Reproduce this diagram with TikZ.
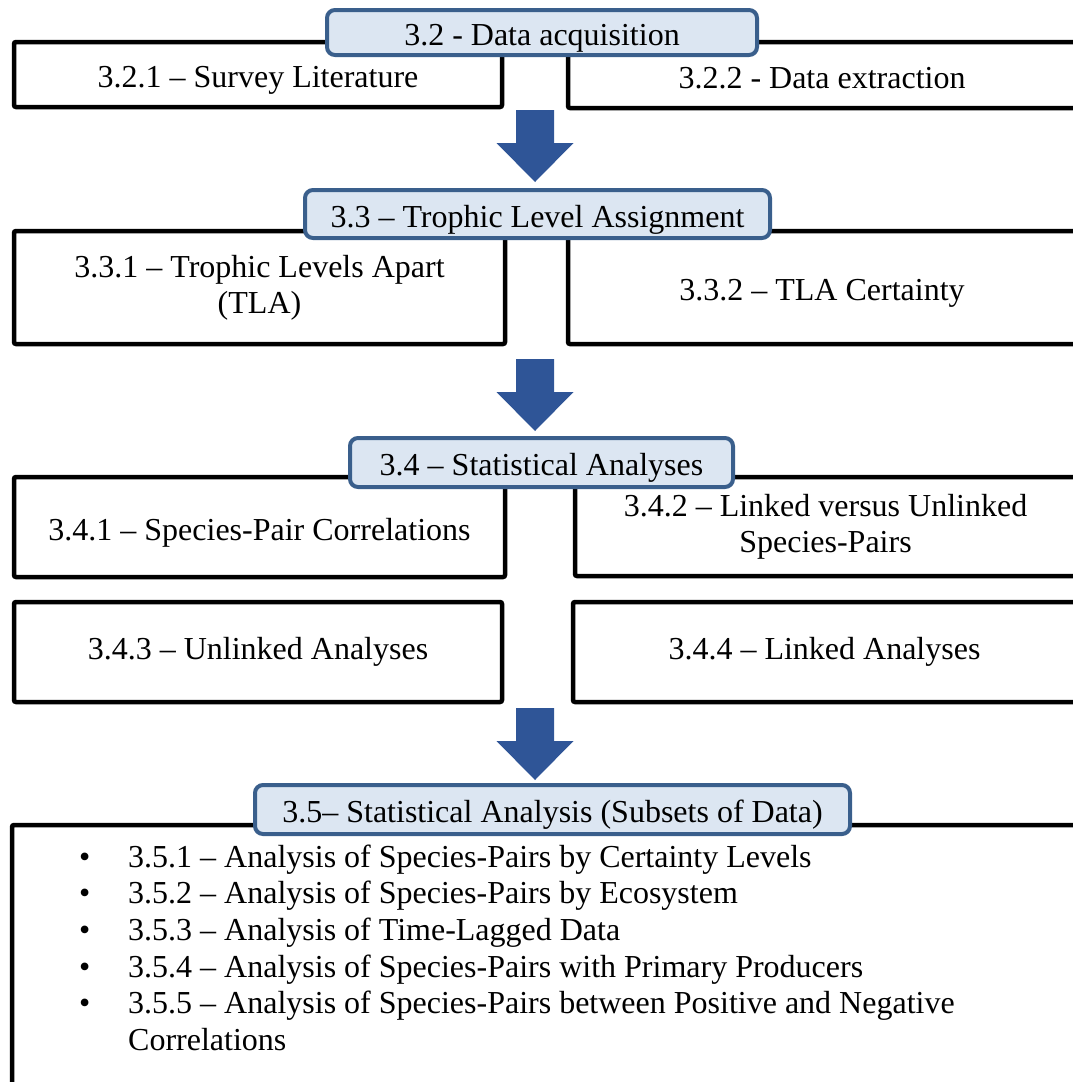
\documentclass[tikz,border=0pt]{standalone}
\usepackage{fontspec}
\setmainfont{Liberation Serif}
\usepackage{tikz}
\usetikzlibrary{positioning}
\definecolor{secblue}{HTML}{3A5F8C}
\definecolor{secfill}{HTML}{DCE6F2}
\definecolor{arrowblue}{HTML}{2F5597}
\tikzset{sect/.style = {draw=secblue, fill=secfill, line width=4pt, rounded corners=8pt, inner sep=0pt, oneline},
         subbox/.style = {draw, line width=4.5pt, rounded corners=2pt, inner sep=0pt, align=center},
         oneline/.style = {text height=26pt, text depth=0pt},
         blockarrow/.style = {fill=arrowblue},
         item/.style = {anchor=base west, inner sep=0pt}}

\begin{document}
\begin{tikzpicture}[x=1pt, y=-1pt, font=\fontsize{32}{36}\selectfont]
            \useasboundingbox (0,0) rectangle (1072,1082);

            % 3.2
            \node [subbox, oneline, minimum width=488, minimum height=65]  (s321) at (258, 74.5)  {3.2.1 – Survey Literature};
            \node [subbox, oneline, minimum width=508, minimum height=66]  (s322) at (822, 75)    {3.2.2 - Data extraction};
            \node [sect, minimum width=430, minimum height=45]             (s32)  at (542, 32.5)  {3.2 - Data acquisition};

            % 3.3
            \node [subbox, minimum width=491, minimum height=113]          (s331) at (259.5, 287.5) {3.3.1 – Trophic Levels Apart\\(TLA)};
            \node [subbox, oneline, minimum width=508, minimum height=113] (s332) at (822, 287.5)   {3.3.2 – TLA Certainty};
            \node [sect, minimum width=465, minimum height=48]             (s33)  at (537.5, 214)   {3.3 – Trophic Level Assignment};

            % 3.4
            \node [subbox, oneline, minimum width=491, minimum height=100] (s341) at (259.5, 527)   {3.4.1 – Species-Pair Correlations};
            \node [subbox, minimum width=501, minimum height=99]           (s342) at (825.5, 526.5) {3.4.2 – Linked versus Unlinked\\Species-Pairs};
            \node [subbox, minimum width=488, minimum height=100]          (s343) at (258, 652)     {3.4.3 – Unlinked Analyses};
            \node [subbox, minimum width=503, minimum height=100]          (s344) at (824.5, 652)   {3.4.4 – Linked Analyses};
            \node [sect, minimum width=383, minimum height=49]             (s34)  at (541.5, 462.5) {3.4 – Statistical Analyses};

            % 3.5
            \node [subbox, minimum width=1068, minimum height=270] (s35box) at (546, 960) {};
            \node [sect, minimum width=595, minimum height=49]     (s35)    at (552.5, 809.5) {3.5– Statistical Analysis (Subsets of Data)};

            \foreach \y/\txt [count=\i] in {867/3.5.1 – Analysis of Species-Pairs by Certainty Levels,
                                             903/3.5.2 – Analysis of Species-Pairs by Ecosystem,
                                             940/3.5.3 – Analysis of Time-Lagged Data,
                                             977/3.5.4 – Analysis of Species-Pairs with Primary Producers,
                                             1013/3.5.5 – Analysis of Species-Pairs between Positive and Negative}{
                \node [item] (dot\i) at (79, \y)  {\textbullet};
                \node [item] (it\i)  at (128, \y) {\txt};
            }
            \node [item] (it5b) at (128, 1050) {Correlations};

            % arrows
            \foreach \t in {110, 359, 708}
                \fill [blockarrow] (516, \t) -- (554, \t) -- (554, \t+33) -- (573.5, \t+33)
                                   -- (535, \t+72) -- (496.5, \t+33) -- (516, \t+33) -- cycle;
        \end{tikzpicture}
\end{document}
